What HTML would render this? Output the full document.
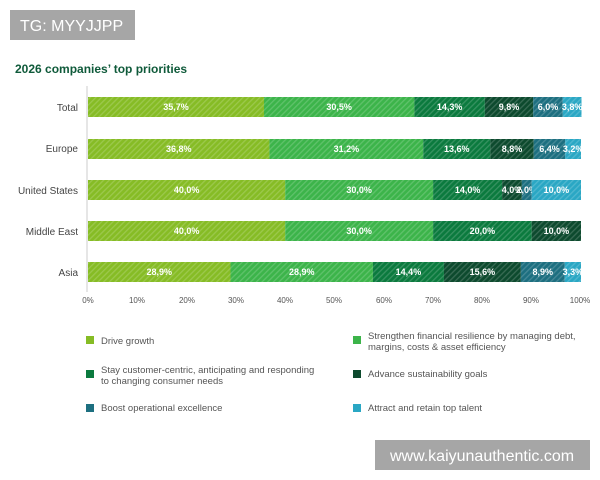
<!DOCTYPE html>
<html><head><meta charset="utf-8"><style>
body{margin:0;width:600px;height:480px;background:#fff;overflow:hidden;font-family:"Liberation Sans",sans-serif}
</style></head><body>
<svg width="600" height="480" xmlns="http://www.w3.org/2000/svg" style="position:absolute;left:0;top:0">
<defs><pattern id="h" width="4" height="4" patternUnits="userSpaceOnUse" patternTransform="rotate(45)"><rect width="1.3" height="4" fill="#fff" opacity="0.18"/></pattern></defs>
<rect x="10" y="10" width="125" height="30" fill="#a6a6a6"/>
<text x="20" y="31" font-size="16" fill="#fff">TG: MYYJJPP</text>
<text x="15" y="73" font-size="12" font-weight="bold" fill="#0f5a3a">2026 companies’ top priorities</text>
<line x1="87" y1="86" x2="87" y2="292" stroke="#ccc" stroke-width="1"/>
<g font-size="10" fill="#444" text-anchor="end">
<text x="78" y="111">Total</text><text x="78" y="152">Europe</text><text x="78" y="194">United States</text><text x="78" y="235">Middle East</text><text x="78" y="276">Asia</text>
</g>
<g id="bars" font-size="9" font-weight="bold" fill="#fff" text-anchor="middle"></g>
<g font-size="8" fill="#555" text-anchor="middle">
<text x="88" y="303">0%</text><text x="137" y="303">10%</text><text x="187" y="303">20%</text><text x="236" y="303">30%</text><text x="285" y="303">40%</text><text x="334" y="303">50%</text><text x="384" y="303">60%</text><text x="433" y="303">70%</text><text x="482" y="303">80%</text><text x="531" y="303">90%</text><text x="580" y="303">100%</text>
</g>
<g font-size="9.5" fill="#555">
<rect x="86" y="336" width="8" height="8" fill="#86bc25"/><text x="101" y="344">Drive growth</text>
<rect x="353" y="336" width="8" height="8" fill="#3cb44a"/><text x="368" y="339">Strengthen financial resilience by managing debt,</text><text x="368" y="350">margins, costs &amp; asset efficiency</text>
<rect x="86" y="370" width="8" height="8" fill="#0b7a3e"/><text x="101" y="373">Stay customer-centric, anticipating and responding</text><text x="101" y="384">to changing consumer needs</text>
<rect x="353" y="370" width="8" height="8" fill="#0d4a2e"/><text x="368" y="377">Advance sustainability goals</text>
<rect x="86" y="404" width="8" height="8" fill="#1d6f80"/><text x="101" y="411">Boost operational excellence</text>
<rect x="353" y="404" width="8" height="8" fill="#2aa7c4"/><text x="368" y="411">Attract and retain top talent</text>
</g>
<rect x="375" y="440" width="215" height="30" fill="#a6a6a6"/>
<text x="482" y="461" font-size="16" fill="#fff" text-anchor="middle">www.kaiyunauthentic.com</text>
</svg>
<script>
const cols=["#86bc25","#3cb44a","#0b7a3e","#0d4a2e","#1d6f80","#2aa7c4"];
const rows=[[97,[35.7,30.5,14.3,9.8,6.0,3.8]],[139,[36.8,31.2,13.6,8.8,6.4,3.2]],[180,[40,30,14,4,2,10]],[221,[40,30,20,10,0,0]],[262,[28.9,28.9,14.4,15.6,8.9,3.3]]];
let s="";
rows.forEach(([y,v])=>{let x=88;v.forEach((p,i)=>{if(!p)return;const w=p*4.93;s+=`<rect x="${x}" y="${y}" width="${w}" height="20" fill="${cols[i]}"/><rect x="${x}" y="${y}" width="${w}" height="20" fill="url(#h)"/>`;s+=`<text x="${x+w/2}" y="${y+13}">${p.toFixed(1).replace('.',',')}%</text>`;x+=w;});});
document.getElementById("bars").innerHTML=s;
</script>
</body></html>
